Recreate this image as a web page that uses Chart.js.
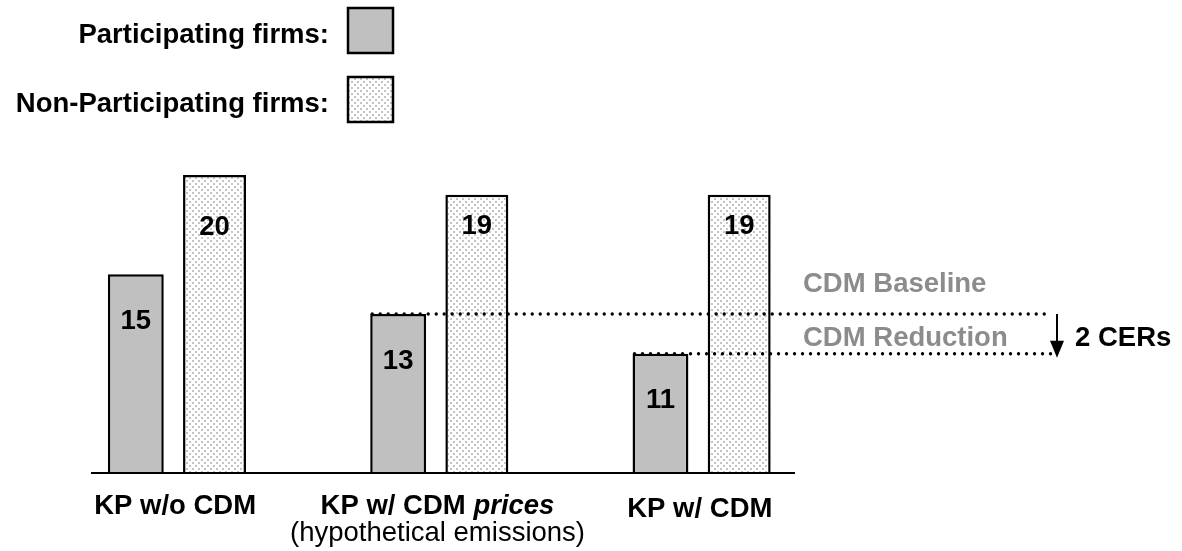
<!DOCTYPE html>
<html>
<head>
<meta charset="utf-8">
<script src="https://cdn.jsdelivr.net/npm/chart.js@4"></script>
<style>
  html, body { margin: 0; padding: 0; background: #fff; }
  canvas { display: block; }
</style>
</head>
<body>
<canvas id="cdmChart" width="1182" height="551"></canvas>
<script>
// emissions per scenario
const categories = ["KP w/o CDM", "KP w/ CDM prices", "KP w/ CDM"];
const subLabels = ["", "(hypothetical emissions)", ""];
const participating = [15, 13, 11];
const nonParticipating = [20, 19, 19];
const seriesNames = ["Participating firms:", "Non-Participating firms:"];

const FONT = '"Liberation Sans", Arial, sans-serif';
const GREY_FILL = "#c0c0c0";
const NOTE_GREY = "#8c8c8c";

// how far below the bar top each value label sits
const labelOffsets = [[47, 47, 47], [52, 32, 32]];

// light dotted fill for the non-participating bars
function dotPattern(ctx) {
    const tile = document.createElement("canvas");
    tile.width = 6;
    tile.height = 6;
    const g = tile.getContext("2d");
    g.fillStyle = "#fff";
    g.fillRect(0, 0, 6, 6);
    g.fillStyle = "#c4c4c4";
    g.fillRect(0, 0, 2, 2);
    g.fillRect(3, 3, 2, 2);
    return ctx.createPattern(tile, "repeat");
}

const canvas = document.getElementById("cdmChart");
const ctx = canvas.getContext("2d");
const dots = dotPattern(ctx);

function dottedLine(c, x1, x2, y) {
    c.save();
    c.strokeStyle = "#000";
    c.lineWidth = 3.4;
    c.lineCap = "round";
    c.setLineDash([0, 8]);
    c.beginPath();
    c.moveTo(x1, y);
    c.lineTo(x2, y);
    c.stroke();
    c.restore();
}

const overlay = {
    id: "overlay",
    beforeDraw(chart) {
        const c = chart.ctx;
        c.save();
        c.fillStyle = "#fff";
        c.fillRect(0, 0, chart.width, chart.height);
        c.restore();
    },
    afterDatasetsDraw(chart) {
        const c = chart.ctx;
        const area = chart.chartArea;
        const x = chart.scales.x;
        const y = chart.scales.y;
        const bars0 = chart.getDatasetMeta(0).data;
        const bars1 = chart.getDatasetMeta(1).data;

        // axis line
        c.save();
        c.strokeStyle = "#000";
        c.lineWidth = 2;
        c.beginPath();
        c.moveTo(area.left + 47, area.bottom);
        c.lineTo(area.right - 36, area.bottom);
        c.stroke();
        c.restore();

        // CDM baseline and reduction
        const arrowX = 1057;
        const yBase = y.getPixelForValue(participating[1]);
        const yRed = y.getPixelForValue(participating[2]);
        dottedLine(c, bars0[1].x - bars0[1].width / 2 + 2, arrowX - 6, yBase);
        dottedLine(c, bars0[2].x - bars0[2].width / 2 + 2, arrowX - 6, yRed);

        c.save();
        c.strokeStyle = "#000";
        c.fillStyle = "#000";
        c.lineWidth = 2;
        c.beginPath();
        c.moveTo(arrowX, yBase);
        c.lineTo(arrowX, yRed - 10);
        c.stroke();
        c.beginPath();
        c.moveTo(arrowX - 7, yRed - 13);
        c.lineTo(arrowX + 7, yRed - 13);
        c.lineTo(arrowX, yRed + 4);
        c.closePath();
        c.fill();

        c.font = "bold 27.5px " + FONT;
        c.textBaseline = "alphabetic";
        c.textAlign = "left";
        c.fillStyle = NOTE_GREY;
        c.fillText("CDM Baseline", 803, yBase - 22);
        c.fillText("CDM Reduction", 803, yRed - 8);
        c.fillStyle = "#000";
        c.fillText((participating[1] - participating[2]) + " CERs", 1075, yRed - 8);

        // value labels inside the bars
        c.textAlign = "center";
        c.textBaseline = "middle";
        [bars0, bars1].forEach((bars, d) => {
            const vals = d === 0 ? participating : nonParticipating;
            bars.forEach((b, i) => {
                c.fillText(String(vals[i]), b.x, b.y + labelOffsets[d][i]);
            });
        });

        // category labels
        c.textBaseline = "alphabetic";
        categories.forEach((label, i) => {
            const cx = x.getPixelForValue(i);
            const by = i === 2 ? area.bottom + 44 : area.bottom + 41;
            if (label.endsWith(" prices")) {
                const head = label.slice(0, -6);
                c.font = "bold 27.5px " + FONT;
                const w1 = c.measureText(head).width;
                c.font = "italic bold 27.5px " + FONT;
                const w2 = c.measureText("prices").width;
                const left = cx - (w1 + w2) / 2;
                c.textAlign = "left";
                c.font = "bold 27.5px " + FONT;
                c.fillText(head, left, by);
                c.font = "italic bold 27.5px " + FONT;
                c.fillText("prices", left + w1, by);
            } else {
                c.textAlign = "center";
                c.font = "bold 27.5px " + FONT;
                c.fillText(label, cx, by);
            }
            if (subLabels[i]) {
                c.textAlign = "center";
                c.font = "27.5px " + FONT;
                c.fillText(subLabels[i], cx, by + 27);
            }
        });

        // legend
        const fills = [GREY_FILL, dots];
        const boxTops = [8, 77];
        seriesNames.forEach((name, i) => {
            c.font = "bold 27.5px " + FONT;
            c.textAlign = "right";
            c.fillStyle = "#000";
            c.fillText(name, 329, boxTops[i] + 35);
            c.fillStyle = fills[i];
            c.fillRect(348, boxTops[i], 45, 45);
            c.strokeStyle = "#000";
            c.lineWidth = 2.5;
            c.strokeRect(348, boxTops[i], 45, 45);
        });
        c.restore();
    }
};

new Chart(canvas, {
    type: "bar",
    data: {
        labels: categories,
        datasets: [
            {
                label: seriesNames[0],
                data: participating,
                backgroundColor: GREY_FILL,
                borderColor: "#000",
                borderWidth: 2.5,
                borderSkipped: "start",
                categoryPercentage: 0.6,
                barPercentage: 0.71
            },
            {
                label: seriesNames[1],
                data: nonParticipating,
                backgroundColor: dots,
                borderColor: "#000",
                borderWidth: 2.5,
                borderSkipped: "start",
                categoryPercentage: 0.6,
                barPercentage: 0.8
            }
        ]
    },
    options: {
        responsive: false,
        animation: false,
        events: [],
        layout: { padding: { left: 44, right: 351, top: 175, bottom: 78 } },
        plugins: { legend: { display: false }, tooltip: { enabled: false } },
        scales: {
            x: { display: false, offset: true },
            y: { display: false, min: 5, max: 20 }
        }
    },
    plugins: [overlay]
});
</script>
</body>
</html>
